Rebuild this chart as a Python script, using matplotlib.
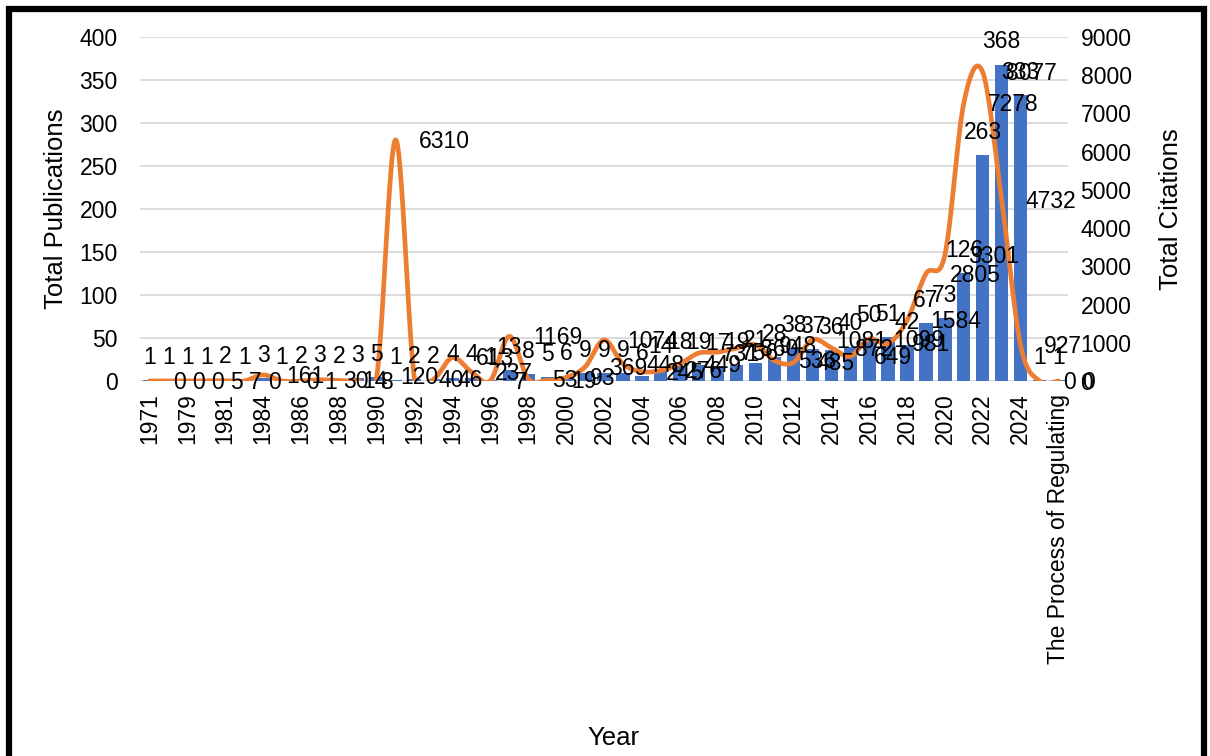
import numpy as np
import matplotlib.pyplot as plt
from matplotlib.patches import Rectangle

# ------------------ data ------------------
CATEGORIES = (["1971", "1978", "1979", "1980", "1981", "1983"]
              + [str(y) for y in range(1984, 2026)]
              + ["The Process of Regulating"])

PUBLICATIONS = [1, 1, 1, 1, 2, 1, 3, 1, 2, 3,
                2, 3, 5, 1, 2, 2, 4, 4, 1, 13,
                8, 5, 6, 9, 9, 9, 6, 14, 18, 19,
                17, 19, 21, 28, 38, 37, 36, 40, 50, 51,
                42, 67, 73, 126, 263, 368, 333, 1, 1]

CITATIONS = [0, 0, 0, 5, 7, 0, 161, 0, 1, 30,
             14, 8, 120, 6310, 40, 46, 613, 237, 7, 1169,
             53, 19, 93, 369, 1074, 448, 245, 276, 449, 731,
             756, 860, 948, 536, 485, 1081, 872, 649, 1099, 981,
             1584, 2805, 3301, 7278, 8077, 4732, 927, 0, 0]

BAR_COLOR = "#4472C4"
LINE_COLOR = "#ED7D31"
GRID_COLOR = "#D9D9D9"
FS = 16.5

plt.rcParams["font.family"] = ["Liberation Sans", "DejaVu Sans"]


def smooth_curve(x, y, n=24):
    # Excel-like smoothed line: cubic Bezier through every point (Catmull-Rom)
    P = np.column_stack([x, y]).astype(float)
    ext = np.vstack([P[0], P, P[-1]])
    t = np.linspace(0, 1, n)[:, None]
    out = []
    for i in range(len(P) - 1):
        p0, p1, p2, p3 = ext[i], ext[i + 1], ext[i + 2], ext[i + 3]
        c1 = p1 + (p2 - p0) / 6
        c2 = p2 - (p3 - p1) / 6
        seg = ((1 - t) ** 3) * p1 + 3 * ((1 - t) ** 2) * t * c1 \
            + 3 * (1 - t) * (t ** 2) * c2 + (t ** 3) * p2
        out.append(seg if i == 0 else seg[1:])
    out = np.vstack(out)
    return out[:, 0], out[:, 1]


fig = plt.figure(figsize=(12.1, 7.56), dpi=100)
ax1 = fig.add_axes([140 / 1210, 1 - 381 / 756, (1068 - 140) / 1210, (381 - 37) / 756])
ax2 = ax1.twinx()

x = np.arange(len(CATEGORIES))

# bars (publications)
ax1.bar(x, PUBLICATIONS, width=0.7, color=BAR_COLOR, zorder=2)
ax1.set_ylim(0, 400)
ax1.set_yticks(range(0, 401, 50))
ax1.set_xlim(-0.5, len(CATEGORIES) - 0.5)
ax1.yaxis.grid(True, color=GRID_COLOR, linewidth=1.3)
ax1.set_axisbelow(True)

# smoothed line (citations)
sx, sy = smooth_curve(x, CITATIONS)
ax2.plot(sx, sy, color=LINE_COLOR, linewidth=3.4, solid_capstyle="round", zorder=3)
ax2.set_ylim(0, 9000)
ax2.set_yticks(range(0, 9001, 1000))

for a in (ax1, ax2):
    for s in a.spines.values():
        s.set_visible(False)
    a.tick_params(length=0, labelsize=FS)

ax1.tick_params(axis="y", pad=16)
ax2.tick_params(axis="y", pad=9)
ax1.set_xticks(x[::2])
ax1.set_xticklabels(CATEGORIES[::2], rotation=90, fontsize=FS)
ax1.tick_params(axis="x", pad=9)

ax1.set_ylabel("Total Publications", fontsize=18.5, labelpad=8)
ax2.set_ylabel("Total Citations", fontsize=18.5, labelpad=20)
fig.text(613 / 1210, 1 - 738 / 756, "Year", fontsize=18.5, ha="center", va="center")

# data labels, drawn on the top axes so they sit over the line
for k, (p, c) in enumerate(zip(PUBLICATIONS, CITATIONS)):
    ax2.annotate(str(p), (k, p), xycoords=ax1.transData, xytext=(0, 8),
                 textcoords="offset points", ha="center", va="bottom",
                 fontsize=FS, annotation_clip=False, zorder=5)
    ax2.annotate(str(c), (k, c), xytext=(17, -1), textcoords="offset points",
                 ha="left", va="center", fontsize=FS, annotation_clip=False, zorder=5)

# black frame round the picture
fig.patches.append(Rectangle((8.5 / 1210, -0.05), (1204 - 8.5) / 1210, 1.05 - 8.5 / 756,
                             transform=fig.transFigure, fill=False,
                             edgecolor="black", linewidth=4.5))

fig.savefig("out.png", dpi=100)
